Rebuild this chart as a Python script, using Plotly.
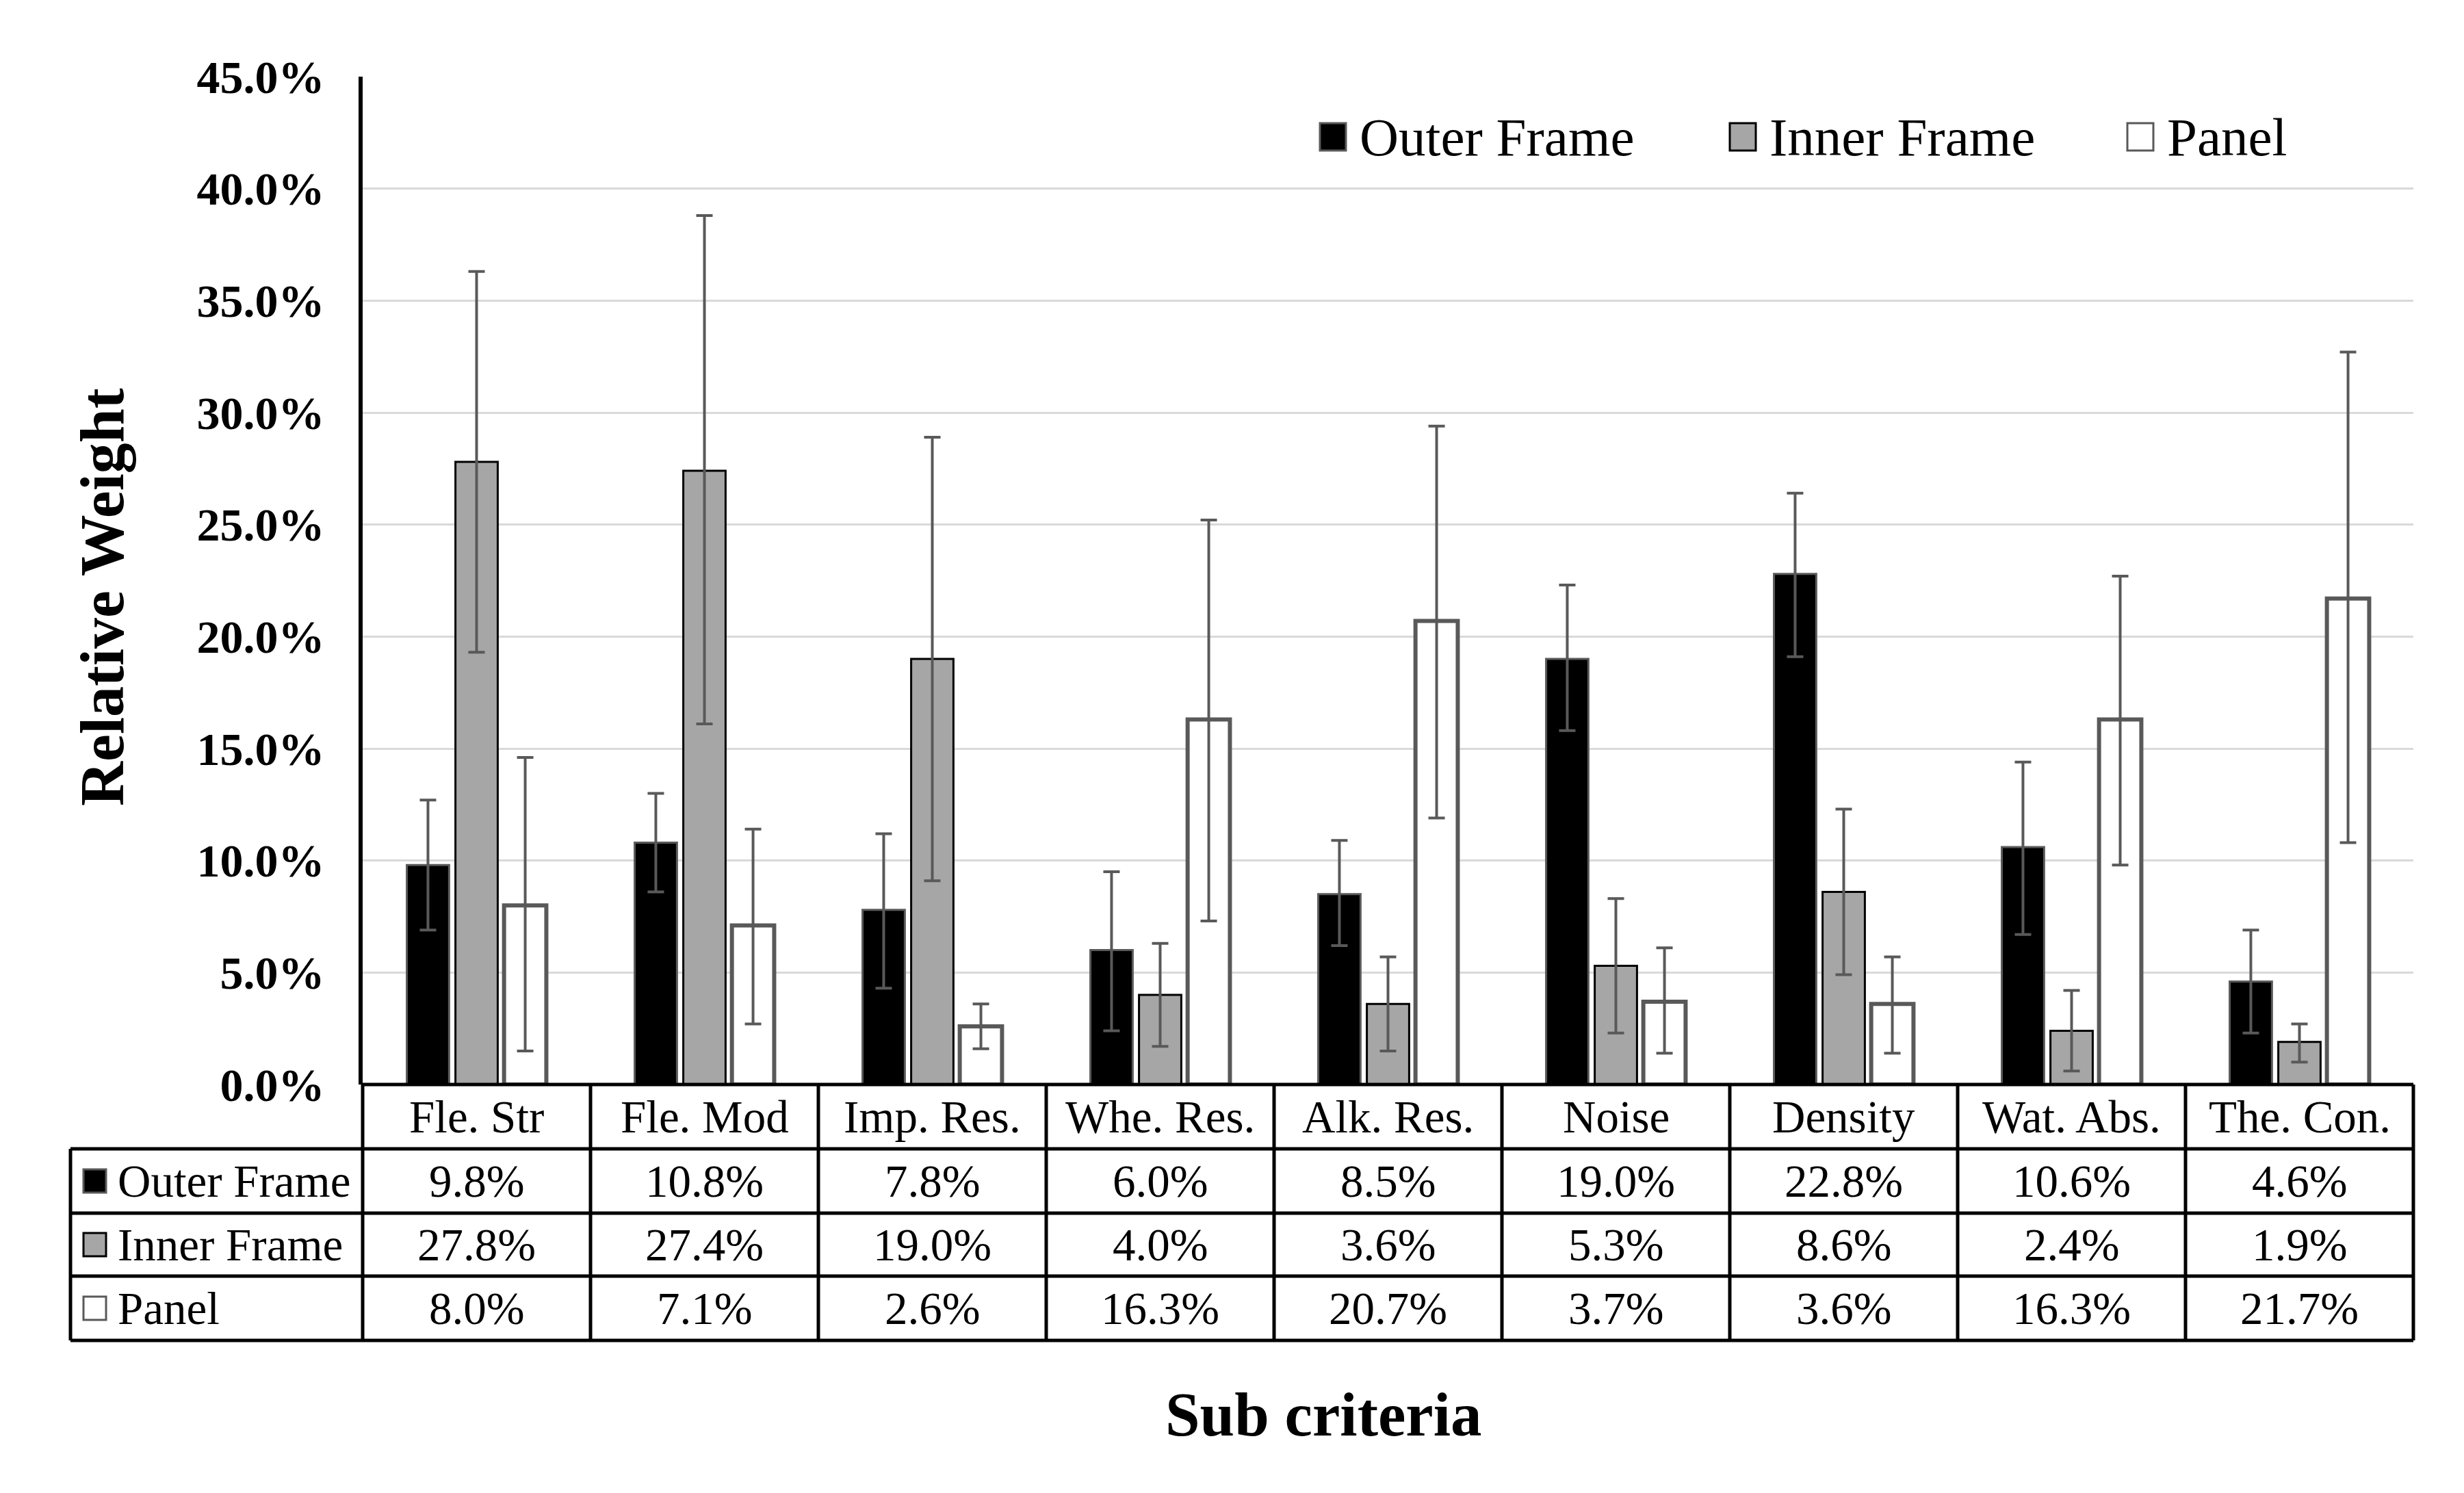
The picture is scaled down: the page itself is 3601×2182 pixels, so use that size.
import plotly.graph_objects as go

# ---------------- data ----------------
categories = ["Fle. Str", "Fle. Mod", "Imp. Res.", "Whe. Res.", "Alk. Res.",
              "Noise", "Density", "Wat. Abs.", "The. Con."]
series_names = ["Outer Frame", "Inner Frame", "Panel"]

outer = [0.098, 0.108, 0.078, 0.060, 0.085, 0.190, 0.228, 0.106, 0.046]
inner = [0.278, 0.274, 0.190, 0.040, 0.036, 0.053, 0.086, 0.024, 0.019]
panel = [0.080, 0.071, 0.026, 0.163, 0.207, 0.037, 0.036, 0.163, 0.217]

# error bar bounds (upper / lower)
outer_hi = [0.127, 0.130, 0.112, 0.095, 0.109, 0.223, 0.264, 0.144, 0.069]
outer_lo = [0.069, 0.086, 0.043, 0.024, 0.062, 0.158, 0.191, 0.067, 0.023]
inner_hi = [0.363, 0.388, 0.289, 0.063, 0.057, 0.083, 0.123, 0.042, 0.027]
inner_lo = [0.193, 0.161, 0.091, 0.017, 0.015, 0.023, 0.049, 0.006, 0.010]
panel_hi = [0.146, 0.114, 0.036, 0.252, 0.294, 0.061, 0.057, 0.227, 0.327]
panel_lo = [0.015, 0.027, 0.016, 0.073, 0.119, 0.014, 0.014, 0.098, 0.108]

y_tick_vals = [0.00, 0.05, 0.10, 0.15, 0.20, 0.25, 0.30, 0.35, 0.40, 0.45]

y_title = "Relative Weight"
x_title = "Sub criteria"

# ---------------- styles ----------------
W, H = 3601, 2182
ML, MR, MT, MB = 530, 74, 112, 597
PW = W - ML - MR
PH = H - MT - MB
FONT = "Liberation Serif, Times New Roman, serif"

fills = ["#000000", "#A6A6A6", "#FFFFFF"]
lines = ["#595959", "#000000", "#595959"]
lwidths = [3, 3, 6]
ERR = "#595959"


def px_x(p):
    return (p - ML) / PW


def px_y(p):
    return (H - MB - p) / PH


fig = go.Figure()
vals = [outer, inner, panel]
his = [outer_hi, inner_hi, panel_hi]
los = [outer_lo, inner_lo, panel_lo]
for i, name in enumerate(series_names):
    v = vals[i]
    fig.add_trace(go.Bar(
        name=name, x=categories, y=v,
        marker=dict(color=fills[i], line=dict(color=lines[i], width=lwidths[i])),
        error_y=dict(type="data", symmetric=False,
                     array=[h - a for h, a in zip(his[i], v)],
                     arrayminus=[a - l for l, a in zip(los[i], v)],
                     color=ERR, thickness=4, width=12),
    ))

shapes = []
annotations = []

# table geometry (pixel rows)
row_edges = [1585, 1679, 1773, 1865, 1959]
table_left = 103
LW = 5
n = len(categories)

# horizontal lines
shapes.append(dict(type="line", xref="paper", yref="paper",
                   x0=0, x1=1, y0=px_y(row_edges[0]), y1=px_y(row_edges[0]),
                   line=dict(color="black", width=LW)))
for r in row_edges[1:]:
    shapes.append(dict(type="line", xref="paper", yref="paper",
                       x0=px_x(table_left), x1=1, y0=px_y(r), y1=px_y(r),
                       line=dict(color="black", width=LW)))
# vertical lines
for k in range(n + 1):
    shapes.append(dict(type="line", xref="paper", yref="paper",
                       x0=k / n, x1=k / n, y0=px_y(row_edges[0]), y1=px_y(row_edges[-1]),
                       line=dict(color="black", width=LW)))
shapes.append(dict(type="line", xref="paper", yref="paper",
                   x0=px_x(table_left), x1=px_x(table_left),
                   y0=px_y(row_edges[1]), y1=px_y(row_edges[-1]),
                   line=dict(color="black", width=LW)))

TFS = 67
# category row
cy = px_y((row_edges[0] + row_edges[1]) / 2)
for c in categories:
    annotations.append(dict(x=c, xref="x", y=cy, yref="paper", text=c,
                            showarrow=False, xanchor="center", yanchor="middle",
                            font=dict(family=FONT, size=TFS, color="black")))
# series rows
for i, name in enumerate(series_names):
    ry_px = (row_edges[i + 1] + row_edges[i + 2]) / 2
    ry = px_y(ry_px)
    for c, v in zip(categories, vals[i]):
        annotations.append(dict(x=c, xref="x", y=ry, yref="paper", text=f"{v:.1%}",
                                showarrow=False, xanchor="center", yanchor="middle",
                                font=dict(family=FONT, size=TFS, color="black")))
    # legend key in table
    shapes.append(dict(type="rect", xref="paper", yref="paper",
                       x0=px_x(122), x1=px_x(155), y0=px_y(ry_px + 17), y1=px_y(ry_px - 17),
                       fillcolor=fills[i], line=dict(color=lines[i], width=3)))
    annotations.append(dict(x=px_x(170), xref="paper", y=ry, yref="paper", text=name,
                            showarrow=False, xanchor="left", yanchor="middle",
                            font=dict(family=FONT, size=TFS, color="black")))

# top legend
leg_sq = [1929, 2528, 3109]
leg_cy = 200
for i, name in enumerate(series_names):
    shapes.append(dict(type="rect", xref="paper", yref="paper",
                       x0=px_x(leg_sq[i]), x1=px_x(leg_sq[i] + 38),
                       y0=px_y(leg_cy + 20), y1=px_y(leg_cy - 20),
                       fillcolor=fills[i], line=dict(color=lines[i], width=3)))
    annotations.append(dict(x=px_x(leg_sq[i] + 56), xref="paper", y=px_y(leg_cy), yref="paper",
                            text=name, showarrow=False, xanchor="left", yanchor="middle",
                            font=dict(family=FONT, size=79, color="black")))

# axis titles
annotations.append(dict(x=px_x(150), xref="paper", y=px_y(873), yref="paper",
                        text=f"<b>{y_title}</b>", textangle=-90, showarrow=False,
                        xanchor="center", yanchor="middle",
                        font=dict(family=FONT, size=90, color="black")))
annotations.append(dict(x=px_x(1934), xref="paper", y=px_y(2067), yref="paper",
                        text=f"<b>{x_title}</b>", showarrow=False,
                        xanchor="center", yanchor="middle",
                        font=dict(family=FONT, size=91, color="black")))

fig.update_layout(
    width=W, height=H,
    margin=dict(l=ML, r=MR, t=MT, b=MB, pad=0),
    paper_bgcolor="white", plot_bgcolor="white",
    barmode="group", bargap=0.36, bargroupgap=0.13,
    showlegend=False,
    shapes=shapes, annotations=annotations,
    xaxis=dict(showticklabels=False, ticks="", showline=False, showgrid=False,
               range=[-0.5, n - 0.5], zeroline=False),
    yaxis=dict(range=[0, 0.45], tickvals=y_tick_vals, tickformat=".1%",
               showgrid=True, gridcolor="#D9D9D9", gridwidth=3,
               showline=True, linecolor="black", linewidth=6, ticks="",
               zeroline=False, ticklabelstandoff=36,
               tickfont=dict(family=FONT, size=68, color="black", weight="bold")),
)

fig.write_html("out.html", config={"displayModeBar": False},
               post_script="document.body.style.margin='0px';")
